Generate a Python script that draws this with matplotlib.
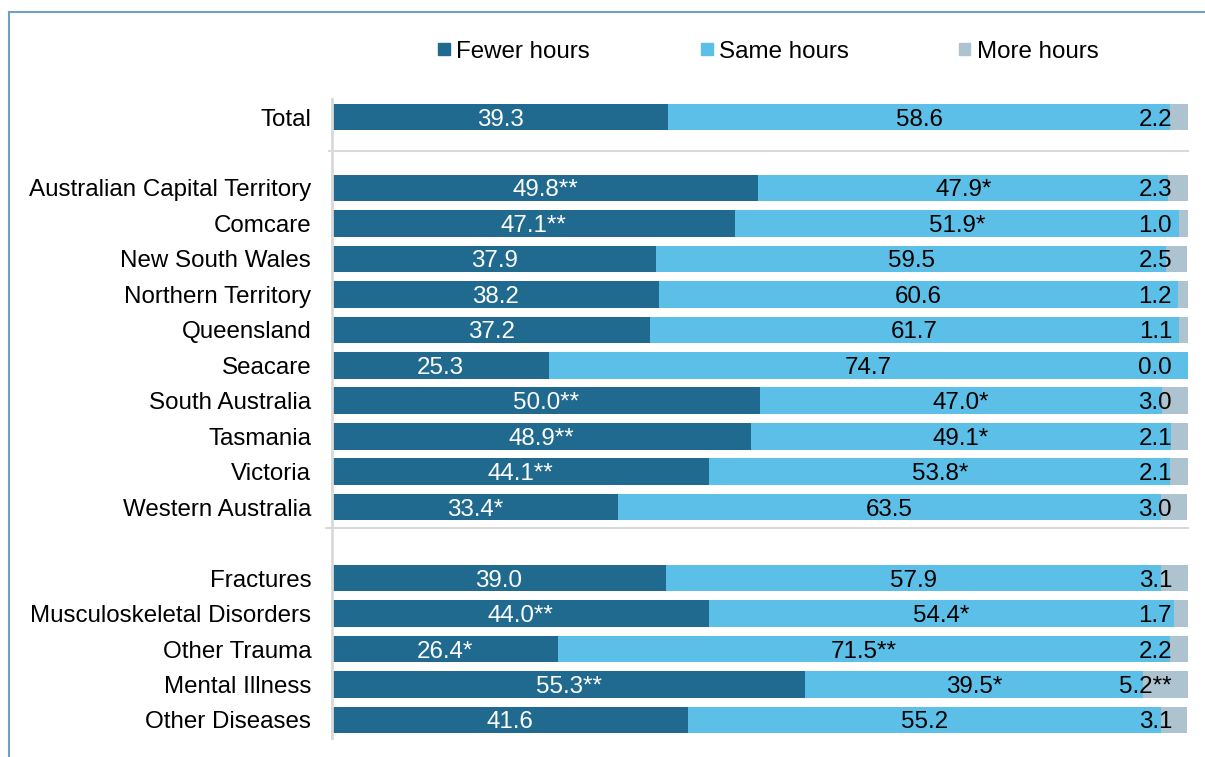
import matplotlib
matplotlib.use("Agg")
import matplotlib.pyplot as plt
from matplotlib.patches import Rectangle
from matplotlib.lines import Line2D

plt.rcParams['font.family'] = ['Liberation Sans', 'DejaVu Sans']

categories = ["Total", "",
              "Australian Capital Territory", "Comcare", "New South Wales",
              "Northern Territory", "Queensland", "Seacare", "South Australia",
              "Tasmania", "Victoria", "Western Australia", "",
              "Fractures", "Musculoskeletal Disorders", "Other Trauma",
              "Mental Illness", "Other Diseases"]

fewer = [39.3, None, 49.8, 47.1, 37.9, 38.2, 37.2, 25.3, 50.0, 48.9, 44.1, 33.4, None,
         39.0, 44.0, 26.4, 55.3, 41.6]
same = [58.6, None, 47.9, 51.9, 59.5, 60.6, 61.7, 74.7, 47.0, 49.1, 53.8, 63.5, None,
        57.9, 54.4, 71.5, 39.5, 55.2]
more = [2.2, None, 2.3, 1.0, 2.5, 1.2, 1.1, 0.0, 3.0, 2.1, 2.1, 3.0, None,
        3.1, 1.7, 2.2, 5.2, 3.1]

fewer_sig = ["", "", "**", "**", "", "", "", "", "**", "**", "**", "*", "",
             "", "**", "*", "**", ""]
same_sig = ["", "", "*", "*", "", "", "", "", "*", "*", "*", "", "",
            "", "*", "**", "*", ""]
more_sig = ["", "", "", "", "", "", "", "", "", "", "", "", "",
            "", "", "", "**", ""]

series_names = ["Fewer hours", "Same hours", "More hours"]
colors = ["#1F6A8E", "#5BBFE7", "#ADC3CF"]

W, H = 1205, 757
fig = plt.figure(figsize=(W / 100, H / 100), dpi=100)
ax = fig.add_axes([332 / W, (H - 737.7) / H, (1188 - 332) / W, (737.7 - 99.3) / H])

FS = 17.4
bar_h = 0.75
for i, cat in enumerate(categories):
    if fewer[i] is None:
        continue
    f, s, m = fewer[i], same[i], more[i]
    ax.barh(i, f, left=0, height=bar_h, color=colors[0], edgecolor='none')
    ax.barh(i, s, left=f, height=bar_h, color=colors[1], edgecolor='none')
    ax.barh(i, m, left=f + s, height=bar_h, color=colors[2], edgecolor='none')
    ax.text(f / 2, i, f"{f:.1f}{fewer_sig[i]}", ha='center', va='center_baseline',
            color='white', fontsize=FS)
    ax.text(f + s / 2, i, f"{s:.1f}{same_sig[i]}", ha='center', va='center_baseline',
            color='black', fontsize=FS)
    ax.annotate(f"{m:.1f}{more_sig[i]}", xy=(100, i), xytext=(-11.5, 0),
                textcoords='offset points', ha='right', va='center_baseline',
                color='black', fontsize=FS)

ax.set_xlim(0, 100)
ax.set_ylim(len(categories) - 0.5, -0.5)
ax.set_yticks(range(len(categories)))
ax.set_yticklabels(categories, fontsize=FS)
ax.tick_params(axis='y', length=0, pad=15)
ax.set_xticks([])
for sp in ['top', 'right', 'bottom']:
    ax.spines[sp].set_visible(False)
ax.spines['left'].set_color('#D9D9D9')
ax.spines['left'].set_linewidth(2)

# group separators
for ysep, x0 in [(0.97, -0.4), (11.6, -0.7)]:
    ax.plot([x0, 100], [ysep, ysep], color='#D9D9D9', lw=1.5, clip_on=False, zorder=0)

# legend (manual)
legend_x = [438, 701, 959]
for name, col, lx in zip(series_names, colors, legend_x):
    fig.patches.append(Rectangle((lx / W, (H - 55) / H), 11.5 / W, 11.5 / H,
                                 transform=fig.transFigure, color=col, figure=fig))
    fig.text((lx + 18) / W, (H - 49) / H, name, fontsize=FS, va='center_baseline', ha='left')

# outer frame lines (left and top)
frame_col = '#6FA0C2'
fig.add_artist(Line2D([9 / W, 9 / W], [0, (H - 12) / H], color=frame_col, lw=1.5,
                      transform=fig.transFigure))
fig.add_artist(Line2D([9 / W, 1], [(H - 12) / H, (H - 12) / H], color=frame_col, lw=1.5,
                      transform=fig.transFigure))

fig.savefig("out.png", dpi=100)
